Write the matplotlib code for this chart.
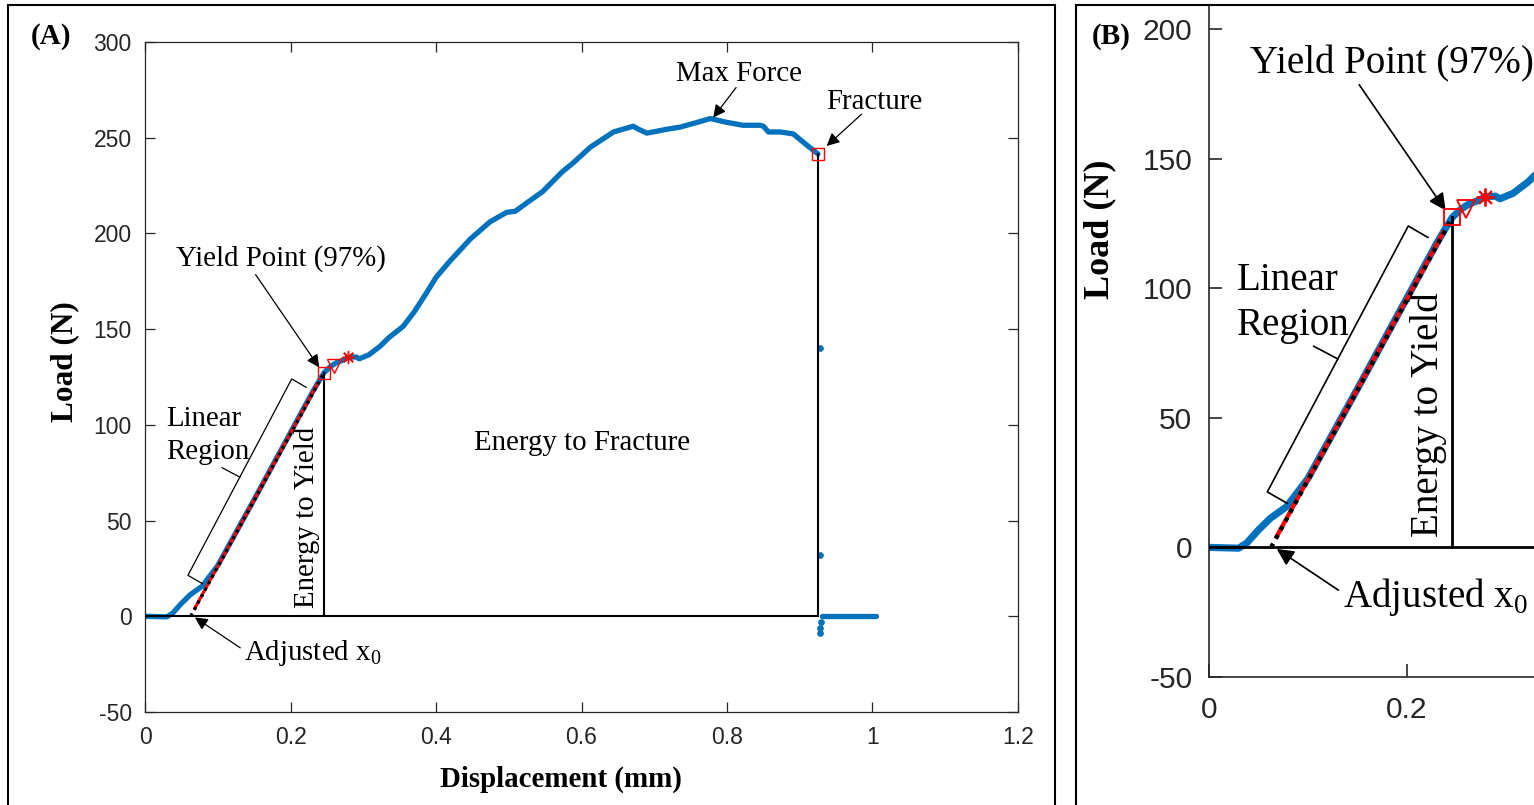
import matplotlib
matplotlib.use('Agg')
import matplotlib.pyplot as plt
from matplotlib.patches import Rectangle

plt.rcParams['axes.unicode_minus'] = False

# ---------------- data ----------------
disp = [0.0, 0.03, 0.038, 0.05, 0.062, 0.0785, 0.087, 0.10, 0.15, 0.20, 0.23, 0.24,
        0.2462, 0.255, 0.264, 0.274, 0.279, 0.29, 0.2945, 0.3077, 0.323, 0.335, 0.355,
        0.37, 0.387, 0.40, 0.419, 0.447, 0.474, 0.497, 0.509, 0.525, 0.547, 0.573,
        0.589, 0.612, 0.644, 0.671, 0.678, 0.690, 0.717, 0.735, 0.759, 0.777, 0.80,
        0.822, 0.845, 0.850, 0.857, 0.873, 0.891, 0.905, 0.925]
load = [0.0, -0.3, 1.6, 6.7, 11.2, 15.7, 20.0, 26.5, 61.0, 96.0, 117.0, 123.5,
        127.3, 130.5, 132.7, 134.0, 135.3, 135.5, 134.5, 136.6, 141.0, 145.5, 151.5,
        159.0, 169.0, 177.0, 185.5, 197.0, 206.0, 211.0, 211.6, 216.0, 222.0, 232.0,
        237.0, 245.0, 253.0, 256.0, 254.5, 252.4, 254.4, 255.5, 258.0, 260.0, 258.0,
        256.5, 256.5, 256.0, 253.0, 253.0, 252.0, 247.6, 241.5]

post_x = [0.928, 0.928, 0.929, 0.9285, 0.9285]
post_y = [140.0, 32.0, -3.0, -6.3, -8.5]
tail_x = [0.930, 1.005]
tail_y = [0.3, 0.3]

fit_x = [0.0685, 0.237]       # red linear fit
fit_y = [4.2, 121.5]
ext_x = [0.0628, 0.2462]      # black dotted extension from adjusted x0
ext_y = [0.0, 127.3]

yield_x, yield_y = 0.2462, 127.3
tri_x, tri_y = 0.2600, 130.5
ast_x, ast_y = 0.2790, 135.3
frac_x, frac_y = 0.925, 241.5

xticks_a = [0, 0.2, 0.4, 0.6, 0.8, 1.0, 1.2]
xtick_labels_a = ['0', '0.2', '0.4', '0.6', '0.8', '1', '1.2']
yticks = [-50, 0, 50, 100, 150, 200, 250, 300]

BLUE = '#0072BD'
AX_C = '#262626'
SERIF = 'Liberation Serif'
SANS = 'Liberation Sans'

W, H = 1534, 805
fig = plt.figure(figsize=(W / 100, H / 100), dpi=100)


def fx(px):
    return px / W


def fy(py):
    return 1 - py / H


axA = fig.add_axes([fx(145), fy(712), fx(1018) - fx(145), fy(42) - fy(712)])
axB = fig.add_axes([fx(1209), fy(677), 1 - fx(1209), fy(6) - fy(677)])


def draw(ax, s):
    ax.plot(disp, load, color=BLUE, lw=3.8 * s, solid_capstyle='round',
            solid_joinstyle='round', zorder=2)
    ax.plot(post_x, post_y, ls='none', marker='o', ms=3.8 * s, color=BLUE, zorder=2)
    ax.plot(tail_x, tail_y, color=BLUE, lw=3.8 * s, solid_capstyle='round', zorder=2)
    # baseline and area boundaries
    ax.plot([0, frac_x], [0, 0], color='k', lw=1.5 * s, zorder=3)
    ax.plot([yield_x, yield_x], [0, yield_y], color='k', lw=1.5 * s, zorder=3)
    ax.plot([frac_x, frac_x], [0, frac_y], color='k', lw=1.5 * s, zorder=3)
    # fit lines
    ax.plot(fit_x, fit_y, color='red', lw=2.3 * s, zorder=4)
    ax.plot(ext_x, ext_y, color='k', lw=2.3 * s, ls=(0, (1, 1.3)), zorder=5)
    # markers
    ax.plot([yield_x], [yield_y], ls='none', marker='s', ms=9 * s, mfc='none',
            mec='red', mew=1.0 * s, zorder=6)
    ax.plot([tri_x], [tri_y], ls='none', marker='v', ms=9.5 * s, mfc='none',
            mec='red', mew=1.0 * s, zorder=6)
    ax.plot([ast_x], [ast_y], ls='none', marker=(8, 2, 0), ms=9.5 * s,
            mec='red', mew=1.0 * s, zorder=6)
    ax.plot([frac_x], [frac_y], ls='none', marker='s', ms=8 * s, mfc='none',
            mec='red', mew=1.0 * s, zorder=6)

    fs = 20.8 * s
    tk = dict(family=SERIF, fontsize=fs, color='k')
    ap = dict(arrowstyle='-|>', color='k', lw=0.9 * s, mutation_scale=19 * s,
              shrinkA=0, shrinkB=0)
    ax.text(0.042, 183, 'Yield Point (97%)', ha='left', va='baseline', **tk)
    ax.annotate('', xy=(0.2395, 130.0), xytext=(0.152, 178.5), arrowprops=ap)
    ax.text(0.0285, 99.3, 'Linear', ha='left', va='baseline', **tk)
    ax.text(0.0285, 82.0, 'Region', ha='left', va='baseline', **tk)
    # bracket
    bl = dict(color='k', lw=0.9 * s, zorder=3)
    ax.plot([0.2215, 0.2017, 0.0590, 0.0792], [119.6, 124.0, 21.4, 17.0], **bl)
    ax.plot([0.1304, 0.1060], [72.7, 77.6], **bl)
    ax.text(0.2318, 4.2, 'Energy to Yield', rotation=90, rotation_mode='anchor',
            ha='left', va='baseline', **tk)
    ax.text(0.1355, -23.0, 'Adjusted x$_\\mathregular{0}$', ha='left',
            va='baseline', **tk)
    ax.annotate('', xy=(0.0686, -0.6), xytext=(0.131, -16.5), arrowprops=ap)
    ax.text(0.601, 86.7, 'Energy to Fracture', ha='center', va='baseline', **tk)
    ax.text(0.8165, 279.5, 'Max Force', ha='center', va='baseline', **tk)
    ax.annotate('', xy=(0.781, 260.5), xytext=(0.8125, 276.2), arrowprops=ap)
    ax.text(0.937, 264.9, 'Fracture', ha='left', va='baseline', **tk)
    ax.annotate('', xy=(0.937, 245.7), xytext=(0.985, 262.3), arrowprops=ap)


draw(axA, 1.0)
draw(axB, 1.35)

# panel A axes
axA.set_xlim(0, 1.2)
axA.set_ylim(-50, 300)
axA.set_xticks(xticks_a)
axA.set_xticklabels(xtick_labels_a)
axA.set_yticks(yticks)
for sp in axA.spines.values():
    sp.set_color(AX_C)
    sp.set_linewidth(0.9)
axA.tick_params(direction='in', length=7, width=0.9, colors=AX_C, labelsize=16.5,
                top=True, right=True)
axA.tick_params(axis='x', pad=10)
axA.tick_params(axis='y', pad=9.5)
for lab in axA.get_xticklabels() + axA.get_yticklabels():
    lab.set_family(SANS)

# panel B axes
axB.set_xlim(0, (1534 - 1209) / 988)
axB.set_ylim(-50, (547.4 - 6) / 2.592)
axB.set_xticks([0, 0.2])
axB.set_xticklabels(['0', '0.2'])
axB.set_yticks([-50, 0, 50, 100, 150, 200])
axB.spines['top'].set_visible(False)
axB.spines['right'].set_visible(False)
for sp in axB.spines.values():
    sp.set_color(AX_C)
    sp.set_linewidth(1.2)
axB.tick_params(direction='in', length=9.5, width=1.2, colors=AX_C, labelsize=21.5)
axB.tick_params(axis='x', pad=14)
axB.tick_params(axis='y', pad=12)
for lab in axB.get_xticklabels() + axB.get_yticklabels():
    lab.set_family(SANS)

# axis labels and panel letters
fig.text(fx(65), fy(362), 'Load (N)', rotation=90, ha='center', va='center',
         family=SERIF, fontweight='bold', fontsize=22.5)
fig.text(fx(561), fy(779), 'Displacement (mm)', ha='center', va='center',
         family=SERIF, fontweight='bold', fontsize=20.8)
fig.text(fx(1100), fy(229), 'Load (N)', rotation=90, ha='center', va='center',
         family=SERIF, fontweight='bold', fontsize=26)
fig.text(fx(51.5), fy(37), '(A)', ha='center', va='center', family=SERIF,
         fontweight='bold', fontsize=21)
fig.text(fx(1111), fy(37), '(B)', ha='center', va='center', family=SERIF,
         fontweight='bold', fontsize=21)

# panel frames
fig.patches.append(Rectangle((fx(8), -0.02), fx(1055) - fx(8), fy(5) + 0.02,
                             transform=fig.transFigure, fill=False, ec='k', lw=1.5))
fig.patches.append(Rectangle((fx(1076), -0.02), 1.0, fy(5) + 0.02,
                             transform=fig.transFigure, fill=False, ec='k', lw=1.5))

fig.savefig('out.png', dpi=100)
